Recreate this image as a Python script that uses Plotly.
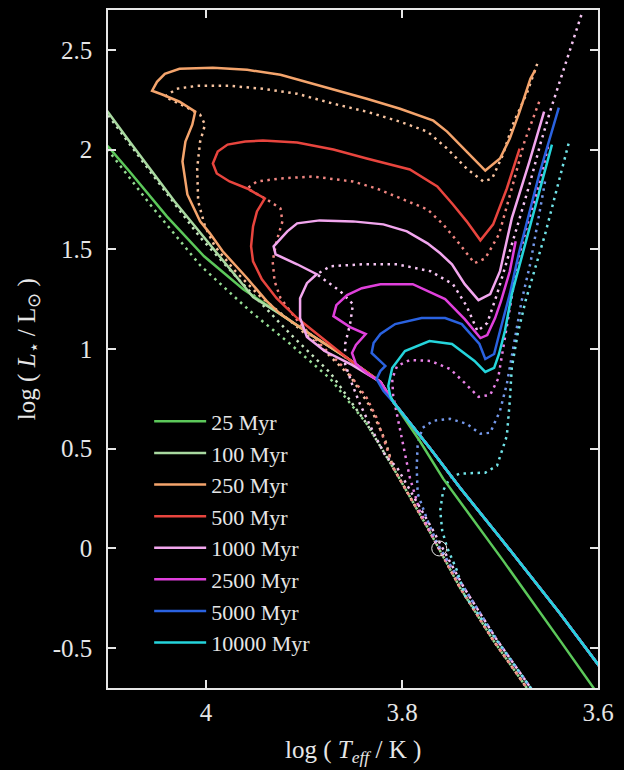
import plotly.graph_objects as go

# ---------------- data (log Teff, log L/Lsun) ----------------
ages = ["25 Myr", "100 Myr", "250 Myr", "500 Myr", "1000 Myr", "2500 Myr", "5000 Myr", "10000 Myr"]
colors = ["#5cc85a", "#a9d9a0", "#f4a46c", "#e8453e", "#f2a6ee", "#e040dc", "#2a62e0", "#25d5dc"]

x_tickvals = [4.0, 3.8, 3.6]
x_ticktext = ["4", "3.8", "3.6"]
y_tickvals = [-0.5, 0, 0.5, 1, 1.5, 2, 2.5]
y_ticktext = ["-0.5", "0", "0.5", "1", "1.5", "2", "2.5"]

# shared main sequence of the solid isochrones
ms_logT = [3.924, 3.891, 3.856, 3.822, 3.809, 3.771, 3.741, 3.700, 3.639, 3.588]
ms_logL = [1.175, 1.065, 0.955, 0.835, 0.735, 0.50, 0.305, 0.055, -0.325, -0.66]

# shared main sequence of the dotted isochrones (two close rows)
dms_logT = [4.105, 4.057, 4.006, 3.955, 3.914, 3.873, 3.836, 3.809, 3.774, 3.741, 3.707, 3.664]
dms_logL = [2.03, 1.725, 1.42, 1.19, 1.025, 0.85, 0.625, 0.405, 0.105, -0.195, -0.46, -0.76]
dms2_logT = [4.105, 4.057, 4.006, 3.955, 3.914, 3.873, 3.836, 3.805, 3.770, 3.737, 3.703, 3.660]
dms2_logL = [2.03, 1.725, 1.42, 1.19, 1.025, 0.85, 0.625, 0.405, 0.105, -0.195, -0.46, -0.76]

# ---- solid isochrones (upper branches, ordered tip -> main sequence) ----
s25_logT = [4.104, 4.098, 4.078, 4.040, 4.002, 3.962, 3.924, 3.891, 3.856, 3.822, 3.809, 3.782, 3.758, 3.697, 3.639, 3.598]
s25_logL = [2.035, 2.005, 1.89, 1.665, 1.465, 1.30, 1.175, 1.065, 0.955, 0.835, 0.735, 0.54, 0.35, -0.06, -0.46, -0.745]

s100_logT = [4.104, 4.078, 4.032, 3.984, 3.952]
s100_logL = [2.215, 2.04, 1.74, 1.45, 1.26]
s100_join = 0

s250_logT = [3.664, 3.669, 3.680, 3.690, 3.700, 3.715, 3.734, 3.754, 3.768, 3.802, 3.836, 3.877,
             3.924, 3.958, 3.993, 4.027, 4.042, 4.050, 4.055, 4.044, 4.027, 4.011, 4.014, 4.021,
             4.024, 4.019, 4.006, 3.996, 3.983, 3.958, 3.938]
s250_logL = [2.40, 2.355, 2.19, 2.055, 1.955, 1.895, 1.99, 2.09, 2.145, 2.205, 2.255, 2.31,
             2.375, 2.40, 2.41, 2.405, 2.38, 2.34, 2.295, 2.275, 2.24, 2.19, 2.125, 2.04,
             1.94, 1.775, 1.64, 1.58, 1.49, 1.355, 1.24]
s250_join = 0

s500_logT = [3.680, 3.693, 3.707, 3.720, 3.734, 3.748, 3.764, 3.792, 3.836, 3.870, 3.907, 3.942,
             3.960, 3.978, 3.988, 3.993, 3.989, 3.976, 3.958, 3.940, 3.948, 3.952, 3.954, 3.952,
             3.943, 3.928, 3.907, 3.884]
s500_logL = [2.005, 1.805, 1.625, 1.545, 1.64, 1.725, 1.815, 1.90, 1.955, 2.00, 2.035, 2.045,
             2.04, 2.025, 1.99, 1.93, 1.88, 1.84, 1.805, 1.755, 1.69, 1.615, 1.515, 1.44,
             1.35, 1.255, 1.155, 1.065]
s500_join = 2

s1000_logT = [3.655, 3.670, 3.688, 3.700, 3.710, 3.722, 3.736, 3.749, 3.761, 3.774, 3.795, 3.819,
              3.850, 3.884, 3.907, 3.917, 3.931, 3.929, 3.907, 3.887, 3.897, 3.904, 3.904, 3.897,
              3.879, 3.851]
s1000_logL = [2.19, 1.94, 1.655, 1.39, 1.275, 1.245, 1.325, 1.425, 1.48, 1.53, 1.59, 1.625,
              1.64, 1.645, 1.63, 1.59, 1.515, 1.475, 1.425, 1.375, 1.33, 1.255, 1.155, 1.06,
              0.99, 0.92]
s1000_join = 3

s2500_logT = [3.684, 3.690, 3.699, 3.705, 3.713, 3.720, 3.736, 3.756, 3.789, 3.822, 3.841, 3.856,
              3.867, 3.870, 3.853, 3.837, 3.847, 3.851, 3.847, 3.835]
s2500_logL = [1.54, 1.39, 1.24, 1.155, 1.07, 1.055, 1.15, 1.25, 1.325, 1.325, 1.305, 1.27,
              1.22, 1.165, 1.11, 1.075, 1.02, 0.98, 0.925, 0.875]
s2500_join = 3

s5000_logT = [3.640, 3.660, 3.681, 3.690, 3.700, 3.706, 3.715, 3.721, 3.739, 3.756, 3.780, 3.807,
              3.822, 3.829, 3.831, 3.823, 3.817, 3.822, 3.826, 3.819]
s5000_logL = [2.21, 1.875, 1.475, 1.275, 1.09, 0.975, 0.95, 1.025, 1.125, 1.155, 1.155, 1.125,
              1.075, 1.03, 0.98, 0.94, 0.915, 0.89, 0.85, 0.79]
s5000_join = 4

s10000_logT = [3.647, 3.667, 3.688, 3.695, 3.701, 3.706, 3.715, 3.726, 3.749, 3.772, 3.797, 3.810,
               3.814, 3.812]
s10000_logL = [2.025, 1.655, 1.275, 1.09, 0.975, 0.905, 0.885, 0.94, 1.025, 1.04, 0.99, 0.905,
               0.815, 0.765]
s10000_join = 4

# ---- dotted isochrones (upper branches, ordered tip -> main sequence) ----
d100_logT = [4.104, 4.057, 4.006, 3.965, 3.914, 3.873]
d100_logL = [2.2, 1.89, 1.56, 1.34, 1.075, 0.88]
d100_join = 6

d250_logT = [3.662, 3.672, 3.687, 3.697, 3.708, 3.717, 3.734, 3.754, 3.774, 3.802, 3.836, 3.870,
             3.907, 3.942, 3.976, 4.009, 4.030, 4.042, 4.021, 4.006, 4.001, 4.006, 4.009, 4.008,
             4.001, 3.991, 3.970, 3.945, 3.914, 3.884, 3.853, 3.833, 3.817]
d250_logL = [2.43, 2.29, 2.125, 1.975, 1.855, 1.84, 1.905, 2.005, 2.09, 2.14, 2.19, 2.23,
             2.28, 2.305, 2.32, 2.32, 2.305, 2.265, 2.215, 2.175, 2.125, 2.04, 1.905, 1.74,
             1.615, 1.515, 1.39, 1.265, 1.14, 1.015, 0.865, 0.715, 0.54]
d250_join = 7

d500_logT = [3.660, 3.675, 3.688, 3.701, 3.715, 3.726, 3.741, 3.758, 3.774, 3.802, 3.826, 3.850,
             3.891, 3.924, 3.948, 3.958, 3.938, 3.924, 3.922, 3.928, 3.932, 3.930, 3.924, 3.904,
             3.884, 3.856, 3.836, 3.826, 3.814]
d500_logL = [2.24, 2.04, 1.805, 1.575, 1.455, 1.43, 1.525, 1.625, 1.70, 1.755, 1.805, 1.84,
             1.865, 1.855, 1.84, 1.805, 1.75, 1.705, 1.64, 1.54, 1.44, 1.34, 1.255, 1.125,
             1.025, 0.89, 0.755, 0.655, 0.48]
d500_join = 7

d1000_logT = [3.617, 3.649, 3.659, 3.669, 3.680, 3.693, 3.703, 3.713, 3.723, 3.734, 3.748, 3.771,
              3.805, 3.840, 3.873, 3.887, 3.863, 3.850, 3.853, 3.858, 3.858, 3.851, 3.843, 3.830,
              3.817]
d1000_logL = [2.675, 2.19, 2.025, 1.84, 1.655, 1.44, 1.275, 1.13, 1.09, 1.215, 1.325, 1.39,
              1.425, 1.425, 1.415, 1.375, 1.29, 1.225, 1.125, 1.025, 0.925, 0.825, 0.725, 0.59,
              0.465]
d1000_join = 7

d2500_logT = [3.651, 3.659, 3.671, 3.682, 3.687, 3.692, 3.697, 3.702, 3.710, 3.722, 3.736, 3.751,
              3.771, 3.792, 3.805, 3.810, 3.809, 3.804, 3.799, 3.792, 3.782, 3.764]
d2500_logL = [2.015, 1.84, 1.64, 1.44, 1.29, 1.14, 0.98, 0.85, 0.77, 0.76, 0.83, 0.90,
              0.94, 0.945, 0.915, 0.85, 0.765, 0.64, 0.515, 0.355, 0.19, 0.015]
d2500_join = 9

d5000_logT = [3.654, 3.669, 3.678, 3.685, 3.693, 3.700, 3.710, 3.720, 3.734, 3.751, 3.768, 3.779,
              3.784, 3.785, 3.784, 3.774, 3.764]
d5000_logL = [1.84, 1.43, 1.24, 1.04, 0.825, 0.69, 0.58, 0.575, 0.625, 0.65, 0.64, 0.605,
              0.525, 0.405, 0.275, 0.14, 0.025]
d5000_join = 9

d10000_logT = [3.630, 3.654, 3.674, 3.682, 3.688, 3.690, 3.693, 3.703, 3.715, 3.741, 3.751, 3.758,
               3.761, 3.759, 3.754, 3.744, 3.736]
d10000_logL = [2.03, 1.575, 1.24, 1.075, 0.905, 0.74, 0.565, 0.415, 0.38, 0.375, 0.355, 0.29,
               0.19, 0.09, 0.005, -0.11, -0.235]
d10000_join = 10

sun_logT = [3.762]
sun_logL = [0.0]

# ---------------- build ----------------
def lighten(hexc, f):
    h = hexc.lstrip("#")
    r, g, b = (int(h[i:i + 2], 16) for i in (0, 2, 4))
    r = int(r + (255 - r) * f); g = int(g + (255 - g) * f); b = int(b + (255 - b) * f)
    return f"rgb({r},{g},{b})"

solid = [
    (s25_logT, s25_logL),
    (s100_logT + ms_logT[s100_join:], s100_logL + ms_logL[s100_join:]),
    (s250_logT + ms_logT[s250_join:], s250_logL + ms_logL[s250_join:]),
    (s500_logT + ms_logT[s500_join:], s500_logL + ms_logL[s500_join:]),
    (s1000_logT + ms_logT[s1000_join:], s1000_logL + ms_logL[s1000_join:]),
    (s2500_logT + ms_logT[s2500_join:], s2500_logL + ms_logL[s2500_join:]),
    (s5000_logT + ms_logT[s5000_join:], s5000_logL + ms_logL[s5000_join:]),
    (s10000_logT + ms_logT[s10000_join:], s10000_logL + ms_logL[s10000_join:]),
]
dotted = [
    (dms_logT, dms_logL),
    (d100_logT + dms_logT[d100_join:], d100_logL + dms_logL[d100_join:]),
    (d250_logT + dms_logT[d250_join:], d250_logL + dms_logL[d250_join:]),
    (d500_logT + dms_logT[d500_join:], d500_logL + dms_logL[d500_join:]),
    (d1000_logT + dms2_logT[d1000_join:], d1000_logL + dms2_logL[d1000_join:]),
    (d2500_logT + dms2_logT[d2500_join:], d2500_logL + dms2_logL[d2500_join:]),
    (d5000_logT + dms2_logT[d5000_join:], d5000_logL + dms2_logL[d5000_join:]),
    (d10000_logT + dms2_logT[d10000_join:], d10000_logL + dms2_logL[d10000_join:]),
]

fig = go.Figure()
for (xt, yl), c in zip(dotted, colors):
    fig.add_trace(go.Scatter(x=xt, y=yl, mode="lines", showlegend=False, hoverinfo="skip",
                             line=dict(color=lighten(c, 0.35), width=2.5, dash="2.5px,4.5px")))
for (xt, yl), c, name in zip(solid, colors, ages):
    fig.add_trace(go.Scatter(x=xt, y=yl, mode="lines", name=name,
                             line=dict(color=c, width=2.5)))
fig.add_trace(go.Scatter(x=sun_logT, y=sun_logL, mode="markers", showlegend=False,
                         marker=dict(symbol="circle-open-dot", size=15, color="#e8e8e8",
                                     line=dict(color="#e8e8e8", width=1))))

FONT = "Liberation Serif"
axcol = "#e6e6e6"
common = dict(showline=True, mirror="allticks", linecolor=axcol, linewidth=1.5,
              ticks="inside", ticklen=8, tickwidth=1.5, tickcolor=axcol,
              showgrid=False, zeroline=False,
              tickfont=dict(family=FONT, size=25, color=axcol))

fig.update_layout(
    width=624, height=770,
    margin=dict(l=108, r=26, t=8, b=82),
    paper_bgcolor="black", plot_bgcolor="black",
    xaxis=dict(range=[4.1, 3.6], tickvals=x_tickvals, ticktext=x_ticktext,
               ticklabelstandoff=1, **common),
    yaxis=dict(range=[-0.7, 2.7], tickvals=y_tickvals, ticktext=y_ticktext,
               ticklabelstandoff=9, **common),
    legend=dict(x=0.084, y=0.424, xanchor="left", yanchor="top", bgcolor="rgba(0,0,0,0)",
                font=dict(family=FONT, size=22, color=axcol), itemwidth=52, tracegroupgap=0),
    annotations=[
        dict(text="log ( <i>T<sub>eff</sub></i> / K )", xref="paper", yref="paper",
             x=0.5, y=-0.094, xanchor="center", yanchor="middle", showarrow=False,
             font=dict(family=FONT, size=25, color=axcol)),
        dict(text="log ( <i>L</i><sub>⋆</sub> / L<sub>⊙</sub> )", xref="paper", yref="paper",
             x=-0.163, y=0.5, xanchor="center", yanchor="middle", textangle=-90, showarrow=False,
             font=dict(family=FONT, size=25, color=axcol)),
    ],
)

fig.write_html("out.html")
